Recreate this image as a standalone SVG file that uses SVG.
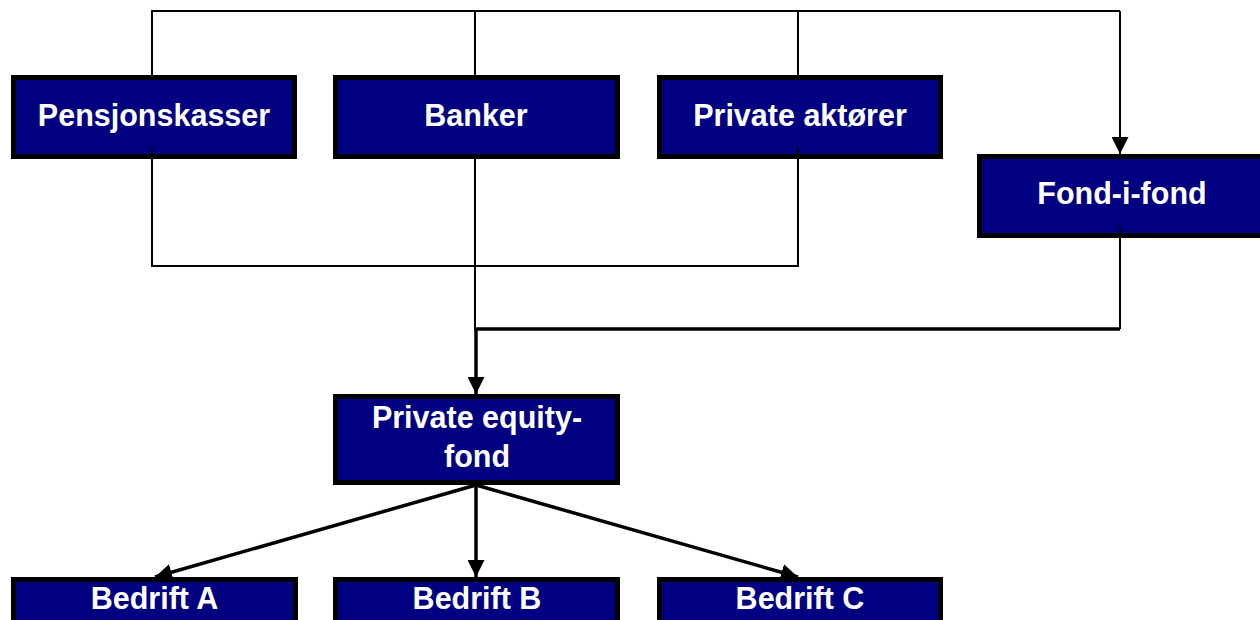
<svg xmlns="http://www.w3.org/2000/svg" width="1260" height="620" viewBox="0 0 1260 620">
<defs>
<style>
.box{fill:#000080;stroke:#000;stroke-width:5}
.lbl{font-family:"Liberation Sans",Arial,sans-serif;font-weight:bold;font-size:30.5px;fill:#fff;text-anchor:middle}
.thin{stroke:#000;stroke-width:2;fill:none}
.thick{stroke:#000;stroke-width:3.5;fill:none}
</style>
<marker id="ah" markerWidth="17" markerHeight="17" viewBox="0 0 17 17" refX="17" refY="8.5" orient="auto" markerUnits="userSpaceOnUse">
<path d="M0,0 L17,8.5 L0,17 Z" fill="#000"/>
</marker>
</defs>
<rect width="1260" height="620" fill="#fff"/>
<g id="pensjonskasser"><rect class="box" x="13.5" y="77.5" width="281" height="79"/><text class="lbl" x="154" y="126">Pensjonskasser</text></g>
<g id="banker"><rect class="box" x="335.5" y="77.5" width="282" height="79"/><text class="lbl" x="476" y="126">Banker</text></g>
<g id="private-aktorer"><rect class="box" x="659.5" y="77.5" width="281" height="79"/><text class="lbl" x="800" y="126">Private aktører</text></g>
<g id="fond-i-fond"><rect class="box" x="979.5" y="156.5" width="290" height="79"/><text class="lbl" x="1122" y="204">Fond-i-fond</text></g>
<g id="private-equity-fond"><rect class="box" x="335.5" y="396.5" width="282" height="86"/><text class="lbl" x="477" y="428">Private equity-</text><text class="lbl" x="477" y="467">fond</text></g>
<g id="bedrift-a"><rect class="box" x="13.5" y="579.5" width="282" height="60"/><text class="lbl" x="154.5" y="609">Bedrift A</text></g>
<g id="bedrift-b"><rect class="box" x="335.5" y="579.5" width="282" height="60"/><text class="lbl" x="477" y="609">Bedrift B</text></g>
<g id="bedrift-c"><rect class="box" x="659.5" y="579.5" width="281" height="60"/><text class="lbl" x="800" y="609">Bedrift C</text></g>
<g id="connectors">
<path class="thin" d="M152,75 V11 H1120"/>
<path class="thin" d="M475,75 V11"/>
<path class="thin" d="M798,75 V11"/>
<path class="thin" d="M1120,11 V154" marker-end="url(#ah)"/>
<path class="thin" d="M152,147 V266 H798 V147"/>
<path class="thin" d="M475,159 V330"/>
<path class="thin" d="M1120,226 V329"/>
<path class="thick" d="M1120,329 H476 V394" marker-end="url(#ah)"/>
<path class="thick" d="M476,485 L155,577" marker-end="url(#ah)"/>
<path class="thick" d="M476,485 V577" marker-end="url(#ah)"/>
<path class="thick" d="M476,485 L798,577" marker-end="url(#ah)"/>
</g>
</svg>
